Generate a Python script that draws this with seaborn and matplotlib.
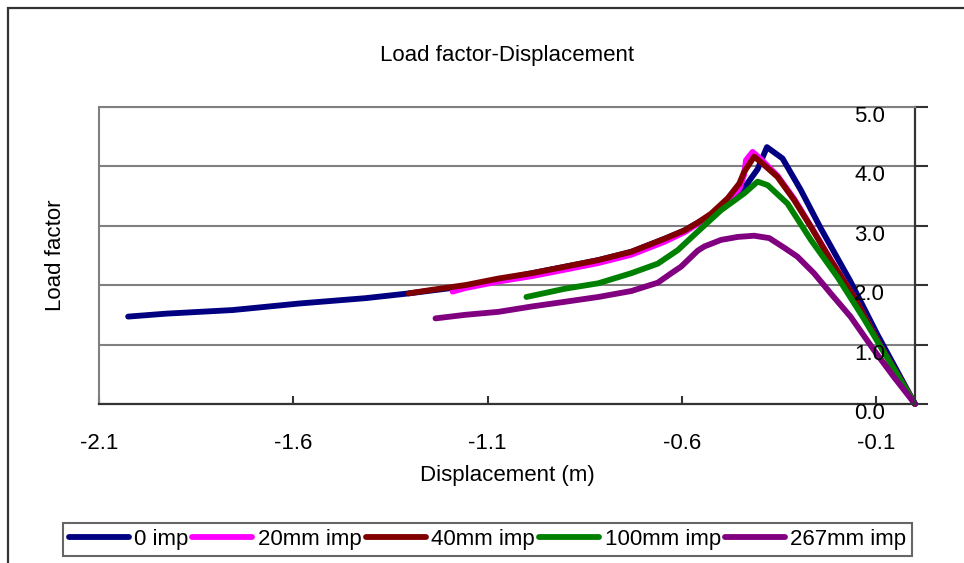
import matplotlib
matplotlib.use("Agg")
import matplotlib.pyplot as plt
import seaborn as sns
import pandas as pd
from matplotlib.lines import Line2D
from matplotlib.patches import Rectangle

# ---- data ----
series_names = ["0 imp", "20mm imp", "40mm imp", "100mm imp", "267mm imp"]
series_colors = ["#000080", "#FF00FF", "#800000", "#008000", "#800080"]

disp_0 = [-2.025, -1.926, -1.756, -1.585, -1.414, -1.303, -1.157, -0.986, -0.9, -0.815,
          -0.73, -0.644, -0.593, -0.559, -0.525, -0.482, -0.44, -0.405, -0.381, -0.341,
          -0.294, -0.243, -0.166, -0.097, 0.0]
load_0 = [1.47, 1.52, 1.58, 1.69, 1.78, 1.86, 1.98, 2.2, 2.31, 2.42,
          2.56, 2.78, 2.92, 3.05, 3.18, 3.38, 3.63, 3.95, 4.32, 4.13,
          3.6, 2.96, 2.06, 1.17, 0.0]

disp_20 = [-1.19, -1.157, -1.072, -0.986, -0.9, -0.815, -0.73, -0.644, -0.593, -0.559,
           -0.525, -0.482, -0.452, -0.44, -0.435, -0.418, -0.397, -0.354, -0.311, -0.268,
           -0.217, -0.157, -0.089, 0.0]
load_20 = [1.89, 1.95, 2.06, 2.15, 2.26, 2.37, 2.51, 2.73, 2.89, 3.03,
           3.18, 3.42, 3.62, 3.85, 4.1, 4.24, 4.12, 3.84, 3.45, 2.99,
           2.43, 1.80, 0.98, 0.0]

disp_40 = [-1.303, -1.243, -1.157, -1.072, -0.986, -0.9, -0.815, -0.73, -0.644, -0.593,
           -0.559, -0.525, -0.482, -0.452, -0.44, -0.414, -0.397, -0.354, -0.311, -0.268,
           -0.217, -0.157, -0.089, 0.0]
load_40 = [1.86, 1.92, 2.0, 2.11, 2.2, 2.31, 2.42, 2.56, 2.78, 2.92,
           3.05, 3.2, 3.46, 3.71, 3.9, 4.16, 4.07, 3.82, 3.43, 2.98,
           2.42, 1.80, 0.98, 0.0]

disp_100 = [-1.0, -0.9, -0.815, -0.73, -0.662, -0.61, -0.559, -0.499, -0.44, -0.405,
            -0.379, -0.328, -0.268, -0.2, -0.132, -0.07, 0.0]
load_100 = [1.80, 1.94, 2.03, 2.2, 2.36, 2.59, 2.9, 3.26, 3.54, 3.74,
            3.68, 3.37, 2.76, 2.14, 1.44, 0.76, 0.0]

disp_267 = [-1.234, -1.157, -1.072, -0.986, -0.9, -0.815, -0.73, -0.662, -0.627, -0.602,
            -0.559, -0.542, -0.499, -0.456, -0.414, -0.375, -0.337, -0.303, -0.26, -0.217,
            -0.166, -0.106, -0.055, 0.0]
load_267 = [1.44, 1.50, 1.55, 1.64, 1.72, 1.80, 1.9, 2.04, 2.2, 2.31,
            2.58, 2.65, 2.76, 2.81, 2.83, 2.79, 2.63, 2.48, 2.2, 1.86,
            1.47, 0.91, 0.46, 0.0]

x_ticks = [-2.1, -1.6, -1.1, -0.6, -0.1]
x_tick_labels = ["-2.1", "-1.6", "-1.1", "-0.6", "-0.1"]
y_ticks = [0.0, 1.0, 2.0, 3.0, 4.0, 5.0]
y_tick_labels = ["0.0", "1.0", "2.0", "3.0", "4.0", "5.0"]

title_text = "Load factor-Displacement"
x_label = "Displacement (m)"
y_label = "Load factor"

# ---- build table ----
all_x = [disp_0, disp_20, disp_40, disp_100, disp_267]
all_y = [load_0, load_20, load_40, load_100, load_267]
frames = []
for name, xs, ys in zip(series_names, all_x, all_y):
    frames.append(pd.DataFrame({"disp": xs, "load": ys, "series": name}))
df = pd.concat(frames, ignore_index=True)

# ---- style ----
sns.set_style("white")
plt.rcParams["font.family"] = ["Liberation Sans", "DejaVu Sans"]
plt.rcParams["axes.unicode_minus"] = False
plt.rcParams["text.color"] = "black"
plt.rcParams["axes.labelcolor"] = "black"
plt.rcParams["xtick.color"] = "black"
plt.rcParams["ytick.color"] = "black"

FS = 16
LW = 4.2
fig = plt.figure(figsize=(9.64, 5.63), dpi=100)
ax = fig.add_axes([99 / 964, 1 - 404 / 563, (915 - 99) / 964, (404 - 106.7) / 563])

palette = dict(zip(series_names, series_colors))
sns.lineplot(data=df, x="disp", y="load", hue="series", units="series",
             estimator=None, sort=False, palette=palette, hue_order=series_names,
             linewidth=LW, legend=False, ax=ax)
for ln in ax.lines:
    ln.set_solid_capstyle("round")
    ln.set_solid_joinstyle("round")
    ln.set_clip_on(False)

ax.set_xlim(-2.1, 0.0)
ax.set_ylim(0, 5)

# grid
ax.yaxis.grid(True, color="#808080", linewidth=1.5)
ax.xaxis.grid(False)
ax.set_axisbelow(True)

# spines
for s in ["left", "top"]:
    ax.spines[s].set_color("#808080")
    ax.spines[s].set_linewidth(1.5)
for s in ["right", "bottom"]:
    ax.spines[s].set_color("#333333")
    ax.spines[s].set_linewidth(1.6)

# x ticks
ax.set_xticks(x_ticks)
ax.set_xticklabels(x_tick_labels, fontsize=FS, color="black")
ax.tick_params(axis="x", direction="in", length=6, width=1.5, color="#333333",
               pad=21, bottom=True, top=False)

# y ticks on the right, labels drawn inside to the left of the axis
ax.yaxis.tick_right()
ax.set_yticks(y_ticks)
ax.tick_params(axis="y", direction="out", length=9, width=1.5, color="#333333",
               right=True, left=False, labelright=False, labelleft=False)
for v, lab in zip(y_ticks, y_tick_labels):
    ax.annotate(lab, xy=(1, v), xycoords=ax.get_yaxis_transform(),
                xytext=(-21.6, -7), textcoords="offset points",
                ha="right", va="center", fontsize=FS, color="black",
                annotation_clip=False)

ax.set_title(title_text, fontsize=FS, pad=33, color="black")
ax.set_xlabel(x_label, fontsize=FS, labelpad=8, color="black")
ax.set_ylabel(y_label, fontsize=FS, labelpad=24, color="black")
ax.yaxis.set_label_position("left")

# legend
handles = [Line2D([], [], color=c, linewidth=LW, solid_capstyle="round")
           for c in series_colors]
leg = fig.legend(handles, series_names, loc="center",
                 bbox_to_anchor=(63 / 964, 1 - 558 / 563, 849 / 964, 37 / 563),
                 bbox_transform=fig.transFigure, mode="expand", ncol=5,
                 fontsize=FS, handlelength=2.7, handletextpad=0.25,
                 borderpad=0.25, columnspacing=0.5, frameon=True, fancybox=False,
                 borderaxespad=0, labelcolor="black")
leg.get_frame().set_edgecolor("#666666")
leg.get_frame().set_linewidth(1.5)
leg.get_frame().set_alpha(1)

# outer chart border
fig.patches.append(Rectangle((8 / 964, -0.1), 1.2, 1 - 8 / 563 + 0.1, fill=False,
                             edgecolor="#333333", linewidth=1.6,
                             transform=fig.transFigure, figure=fig))

fig.savefig("out.png", dpi=100)
